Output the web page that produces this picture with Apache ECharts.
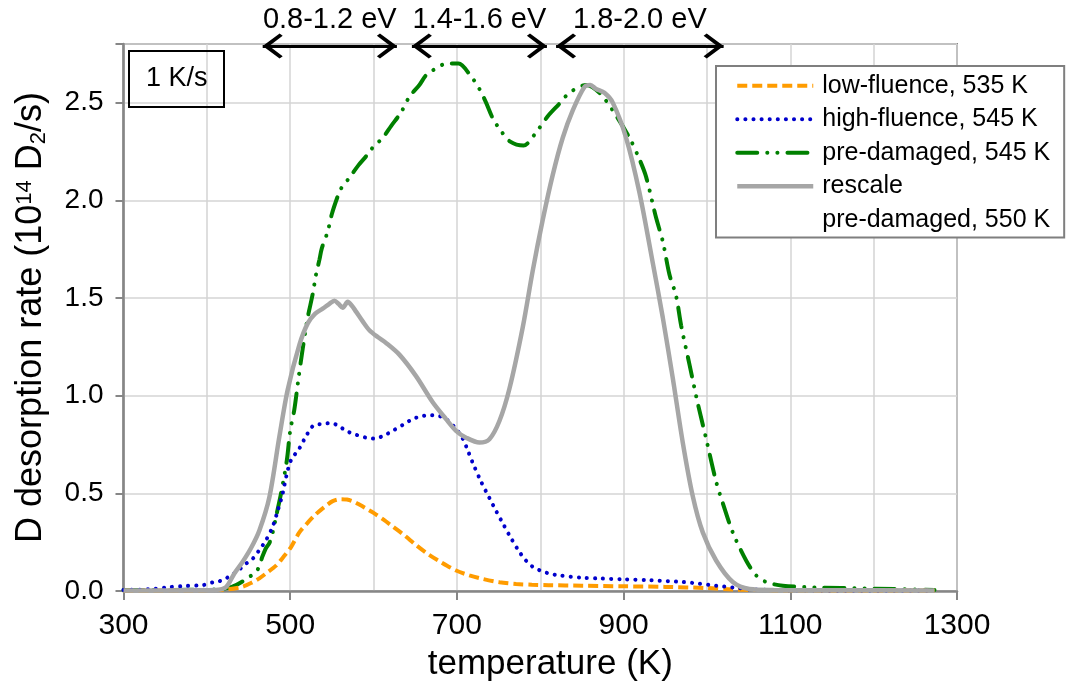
<!DOCTYPE html>
<html><head><meta charset="utf-8">
<script src="https://cdn.jsdelivr.net/npm/echarts@6/dist/echarts.min.js"></script>
<style>html,body{margin:0;padding:0;background:#fff}#c{width:1066px;height:684px}</style>
</head><body><div id="c"></div>
<script>
// ---- data (temperature in K, D desorption rate in 1e14 D2/s) ----
const lowT  = [300,340,380,410,425,443,455,463,471,483,492,501,511,520,530,541,551,560,568,576,584,592,600,612,623,637,651,665,680,699,715,731,751,771,790,810,850,900,950,1000,1030,1060,1100,1150,1200,1273];
const lowV  = [0.003,0.003,0.004,0.005,0.008,0.022,0.045,0.065,0.09,0.13,0.175,0.225,0.30,0.345,0.39,0.43,0.46,0.47,0.468,0.458,0.44,0.42,0.40,0.365,0.33,0.285,0.235,0.19,0.15,0.105,0.08,0.062,0.045,0.036,0.032,0.03,0.027,0.024,0.021,0.015,0.008,0.005,0.004,0.003,0.003,0.003];
const highT = [300,320,335,355,375,395,407,415,423,431,439,447,455,463,471,479,485,491,496,501,511,520,529,540,549,558,567,579,591,601,612,623,635,647,658,669,679,687,697,707,713,719,729,739,747,755,765,775,783,791,800,810,823,850,871,900,931,971,990,1011,1031,1051,1080,1150,1273];
const highV = [0.005,0.007,0.01,0.02,0.026,0.03,0.044,0.05,0.065,0.085,0.11,0.14,0.165,0.21,0.26,0.33,0.41,0.5,0.6,0.67,0.73,0.8,0.85,0.855,0.86,0.845,0.82,0.8,0.785,0.78,0.795,0.82,0.85,0.88,0.895,0.9,0.895,0.88,0.84,0.78,0.72,0.656,0.56,0.476,0.41,0.347,0.27,0.2,0.155,0.124,0.105,0.09,0.08,0.068,0.064,0.06,0.055,0.046,0.038,0.027,0.018,0.009,0.005,0.003,0.002];
const preT  = [300,340,380,410,425,435,447,455,461,467,471,475,479,483,489,496,500,505,510,515,521,527,531,535,538,545,550,557,561,570,582,592,599,611,621,633,643,655,663,673,688,702,716,727,735,743,752,764,780,792,809,822,835,855,871,887,907,919,927,939,947,955,963,969,979,989,999,1011,1019,1031,1047,1059,1071,1091,1131,1191,1273];
const preV  = [0.005,0.005,0.006,0.008,0.015,0.03,0.06,0.085,0.11,0.18,0.22,0.245,0.3,0.38,0.5,0.67,0.82,0.93,1.09,1.24,1.4,1.52,1.62,1.695,1.755,1.84,1.93,2.02,2.06,2.11,2.18,2.23,2.27,2.32,2.38,2.45,2.53,2.59,2.64,2.67,2.7,2.7,2.64,2.57,2.5,2.42,2.36,2.3,2.28,2.33,2.43,2.49,2.55,2.59,2.55,2.46,2.32,2.21,2.12,1.91,1.79,1.62,1.51,1.36,1.16,0.96,0.78,0.56,0.45,0.3,0.156,0.08,0.046,0.027,0.018,0.013,0.005];
const resT  = [300,350,400,411,423,433,443,453,463,475,487,497,511,521,530,539,547,553,558,563,569,574,579,587,595,605,615,631,651,671,687,699,711,727,739,751,763,779,791,803,815,827,839,853,860,867,877,887,903,919,935,947,959,971,983,995,1011,1031,1051,1080,1150,1273];
const resV  = [0.003,0.003,0.004,0.005,0.02,0.09,0.15,0.22,0.31,0.48,0.79,1.03,1.26,1.37,1.42,1.445,1.47,1.486,1.47,1.45,1.48,1.46,1.43,1.38,1.335,1.3,1.27,1.21,1.10,0.966,0.88,0.82,0.785,0.76,0.777,0.87,1.035,1.35,1.64,1.9,2.13,2.32,2.46,2.58,2.59,2.57,2.55,2.5,2.32,2.04,1.68,1.40,1.09,0.76,0.485,0.30,0.156,0.046,0.01,0.005,0.004,0.003];
const seriesNames = ['low-fluence, 535 K','high-fluence, 545 K','pre-damaged, 545 K','rescale','pre-damaged, 550 K'];
const bandNames = ['0.8-1.2 eV','1.4-1.6 eV','1.8-2.0 eV'];
const bandStart = [467,646,819];
const bandEnd   = [628,808,1020];
const bandLevel = 2.79;
const rateLabel = '1 K/s';
const xTicks = {min:300, max:1300, step:200};
const yTicks = {min:0, max:2.8, step:0.5};

const pair = (t,v) => t.map((x,i)=>[x,v[i]]);
const FONT = 'Liberation Sans';
const AX = '#868686';
const GRID = '#D4D4D4';
// open chevron whose tip sits at the centre of its box (tiny speck keeps the top half of the box)
const chevron = 'path://M50,0 L50.3,0.3 L49.7,0.3 Z M50,52 L100,96 L91,104 L50,69 L9,104 L0,96 Z';

const styles = [
  {color:'#FF9C00', width:4, type:[10,5]},
  {color:'#0000CC', width:4, type:[0.1,8], cap:'round'},
  {color:'#008000', width:4, type:[20,10,0.1,10,0.1,10], cap:'round'},
  {color:'#A6A6A6', width:4.5, type:'solid'}
];

const chart = echarts.init(document.getElementById('c'), null, {renderer:'canvas'});
chart.setOption({
  animation:false,
  backgroundColor:'#fff',
  textStyle:{fontFamily:FONT},
  title:{
    text:rateLabel, left:129, top:51, padding:[12,17,12,17],
    borderColor:'#000', borderWidth:2,
    textStyle:{fontSize:27, fontWeight:'normal', color:'#000', fontFamily:FONT, lineHeight:32}
  },
  grid:{left:123.5, right:109, top:44, bottom:93, show:true, borderColor:AX, borderWidth:2,
        backgroundColor:'transparent', containLabel:false, outerBoundsMode:'none'},
  legend:{
    data:seriesNames.map((n,i)=> i===4
      ? {name:n, itemStyle:{opacity:0}, lineStyle:{opacity:0}}
      : {name:n, itemStyle:{opacity:0}, lineStyle:Object.assign({}, styles[i], {opacity:1})}),
    orient:'vertical', left:716, top:66,
    padding:[3,14,1,19], itemGap:0, itemWidth:76, itemHeight:14,
    borderColor:'#7f7f7f', borderWidth:2, backgroundColor:'#fff',
    textStyle:{fontSize:25, color:'#000', fontFamily:FONT, lineHeight:33.5, padding:[0,0,0,4]},
    selectedMode:false
  },
  xAxis:{
    type:'value', min:xTicks.min, max:xTicks.max, interval:xTicks.step,
    name:'temperature (K)', nameLocation:'middle', nameGap:56,
    nameTextStyle:{fontSize:35, color:'#000', fontFamily:FONT, padding:[0,0,0,20]},
    axisLine:{show:true, lineStyle:{color:AX, width:2.5}},
    axisTick:{show:true, inside:false, length:9, lineStyle:{color:AX, width:2}},
    axisLabel:{fontSize:30, color:'#000', margin:20, fontFamily:FONT, formatter:v=>String(v)},
    splitLine:{show:true, lineStyle:{color:GRID, width:1.5}},
    minorTick:{show:false, splitNumber:2},
    minorSplitLine:{show:true, lineStyle:{color:GRID, width:1.5}}
  },
  yAxis:{
    type:'value', min:yTicks.min, max:yTicks.max, interval:yTicks.step,
    name:'D desorption rate (10{sup|14} D{sub|2}/s)', nameLocation:'middle', nameGap:74,
    nameTextStyle:{fontSize:36, color:'#000', fontFamily:FONT,
      rich:{sup:{fontSize:22, verticalAlign:'top', fontFamily:FONT, color:'#000'},
            sub:{fontSize:22, verticalAlign:'bottom', fontFamily:FONT, color:'#000'}}},
    axisLine:{show:true, lineStyle:{color:AX, width:2.5}},
    axisTick:{show:true, inside:false, length:8, lineStyle:{color:AX, width:2}},
    axisLabel:{fontSize:28, color:'#000', margin:20, fontFamily:FONT,
      formatter:v => v > 2.6 ? '' : v.toFixed(1)},
    splitLine:{show:true, lineStyle:{color:GRID, width:1.5}}
  },
  series:[
    {name:seriesNames[0], type:'line', data:pair(lowT,lowV), showSymbol:false, symbol:'none', smooth:0.3,
     lineStyle:styles[0], itemStyle:{color:styles[0].color}, z:3},
    {name:seriesNames[1], type:'line', data:pair(highT,highV), showSymbol:false, symbol:'none', smooth:0.3,
     lineStyle:styles[1], itemStyle:{color:styles[1].color}, z:4},
    {name:seriesNames[2], type:'line', data:pair(preT,preV), showSymbol:false, symbol:'none', smooth:0.3,
     lineStyle:styles[2], itemStyle:{color:styles[2].color}, z:2},
    {name:seriesNames[3], type:'line', data:pair(resT,resV), showSymbol:false, symbol:'none', smooth:0.3,
     lineStyle:styles[3], itemStyle:{color:styles[3].color}, z:5},
    {name:seriesNames[4], type:'line', data:[], showSymbol:false, symbol:'none',
     lineStyle:{opacity:0}, itemStyle:{opacity:0}},
    {name:'bands', type:'line', data:[], silent:true,
     markLine:{
       silent:true, symbol:[chevron, chevron], symbolSize:[25,40],
       lineStyle:{color:'#000', width:3, type:'solid'},
       label:{show:true, position:'insideMiddleTop', distance:11, fontSize:29, color:'#000', fontFamily:FONT,
              formatter:p=>p.name},
       emphasis:{disabled:true},
       data:bandNames.map((n,i)=>[{name:n, coord:[bandStart[i],bandLevel]},{coord:[bandEnd[i],bandLevel]}])
     }}
  ]
});
</script></body></html>
